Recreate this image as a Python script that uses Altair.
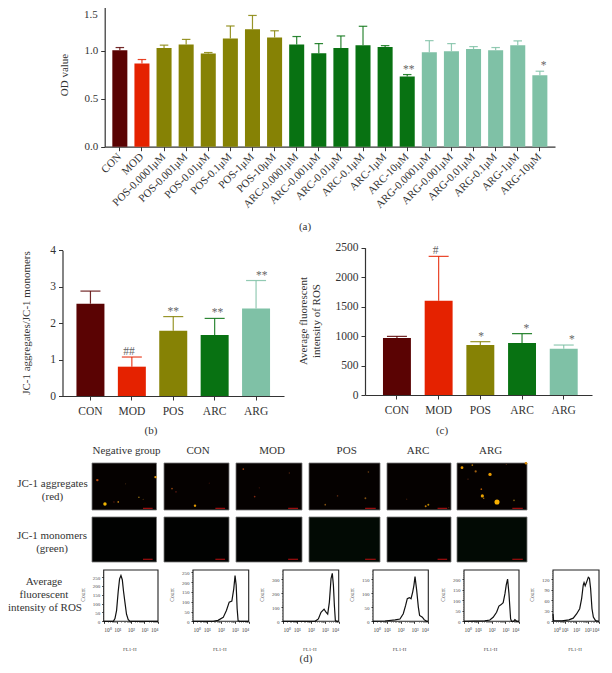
import altair as alt
import pandas as pd

FONT = "Liberation Serif"
OFF = 8
W, H = 596, 657

COLORS = {"CON": "#5a0303", "MOD": "#e52200", "POS": "#868205", "ARC": "#087212", "ARG": "#7fc1a6"}

# Panel (a)
a_labels = ["CON", "MOD", "POS-0.0001μM", "POS-0.001μM", "POS-0.01μM", "POS-0.1μM", "POS-1μM", "POS-10μM",
            "ARC-0.0001μM", "ARC-0.001μM", "ARC-0.01μM", "ARC-0.1μM", "ARC-1μM", "ARC-10μM",
            "ARG-0.0001μM", "ARG-0.001μM", "ARG-0.01μM", "ARG-0.1μM", "ARG-1μM", "ARG-10μM"]
a_groups = ["CON", "MOD"] + ["POS"] * 6 + ["ARC"] * 6 + ["ARG"] * 6
a_vals = [1.007, 0.868, 1.03, 1.066, 0.972, 1.13, 1.226, 1.14, 1.066, 0.976, 1.03, 1.06, 1.04, 0.733,
          0.986, 0.997, 1.02, 1.007, 1.06, 0.746]
a_tops = [1.035, 0.91, 1.06, 1.12, 0.983, 1.26, 1.37, 1.21, 1.15, 1.076, 1.156, 1.257, 1.055, 0.753,
          1.107, 1.076, 1.045, 1.035, 1.104, 0.788]
a_marks = ["", "", "", "", "", "", "", "", "", "", "", "", "", "**", "", "", "", "", "", "*"]

# Panels (b), (c)
groups = ["CON", "MOD", "POS", "ARC", "ARG"]
b_vals = [2.535, 0.805, 1.794, 1.675, 2.40]
b_tops = [2.88, 1.07, 2.18, 2.13, 3.17]
b_marks = ["", "##", "**", "**", "**"]
c_vals = [967, 1600, 848, 882, 786]
c_tops = [995, 2353, 905, 1040, 848]
c_marks = ["", "#", "*", "*", "*"]


def bars(labels, grps, vals, tops, marks, x0, x1, y0, y1, ymax, yticks, pin, pout, cap, yfmt,
         angle=0, lab_size=11.5, title_pad=6, band_align=0.5):
    df = pd.DataFrame({"label": labels, "group": grps, "val": vals, "top": tops, "mark": marks})
    x_off = dict(labelFont=FONT, labelFontSize=lab_size, labelColor="#333", tickColor="#333", domainColor="#333",
                 tickSize=4, labelPadding=title_pad, title=None, orient="bottom", offset=y0 - OFF - H,
                 domainWidth=1.2, tickWidth=1)
    if angle:
        x_off.update(labelAngle=angle, labelAlign="right", labelBaseline="middle")
    else:
        x_off.update(labelAngle=0)
    xs = alt.Scale(domain=labels, range=[x0 - OFF, x1 - OFF], paddingInner=pin, paddingOuter=pout, align=band_align)
    ys = alt.Scale(domain=[0, ymax], range=[y0 - OFF, y1 - OFF], nice=False)
    col = alt.Color("group:N", scale=alt.Scale(domain=groups, range=[COLORS[g] for g in groups]), legend=None)
    yax = alt.Axis(values=yticks, format=yfmt, labelFont=FONT, labelFontSize=lab_size, labelColor="#333",
                   tickColor="#333", domainColor="#333", tickSize=4, labelPadding=3, title=None, orient="left",
                   offset=-(x0 - OFF), grid=False, domainWidth=1.2, tickWidth=1)
    X = alt.X("label:N", scale=xs, sort=labels, axis=alt.Axis(**x_off))
    Xn = alt.X("label:N", scale=xs, sort=labels, axis=None)
    Yn = alt.Y("top:Q", scale=ys, axis=None)
    base = alt.Chart(df)
    rule = base.mark_rule(strokeWidth=1.2, opacity=0.85).encode(x=Xn, y=Yn, y2="val:Q", color=col)
    tick = base.mark_tick(size=cap, thickness=1.2, opacity=0.85).encode(x=Xn, y=Yn, color=col)
    bar = base.mark_bar().encode(x=X, y=alt.Y("val:Q", scale=ys, axis=yax), color=col)
    txt = base.transform_filter("datum.mark != ''").mark_text(
        font=FONT, fontSize=11.5, dy=-5, color="#666").encode(x=Xn, y=Yn, text="mark:N")
    return [rule, tick, bar, txt]


# Panel (d) fluorescence images: panel extents on the page, spots read in crop coordinates
img_cols = [(92, 156.5), (164, 229), (236, 302), (309, 380), (387, 451), (457, 527)]
crop_x = [(6, 200), (222, 417), (438, 636), (11, 225), (245, 437), (457, 667)]
row1 = (463, 510)
row2 = (517, 562)
spots_red = [
    [(22, 61, 6, "#b84a10"), (45, 132, 12, "#f0b400"), (85, 126, 3, "#b87a10"), (197, 52, 6, "#e09810"),
     (147, 112, 3, "#806010"), (107, 72, 1.5, "#402810"), (160, 118, 1.5, "#604010"), (72, 126, 2, "#601c10")],
    [(246, 86, 3, "#904510"), (258, 96, 3, "#501610"), (315, 137, 6, "#e09800"), (358, 70, 2, "#301008")],
    [(460, 28, 3, "#a04010"), (494, 110, 3, "#802810"), (598, 40, 2, "#502410"), (508, 84, 2, "#401408")],
    [(190, 37, 2.5, "#704010"), (97, 108, 2.5, "#582810"), (181, 115, 3.5, "#805010"), (60, 134, 3, "#805010")],
    [(361, 139, 4, "#c07a00"), (369, 134, 4, "#b88800"), (304, 118, 2, "#3a1a08"), (430, 143, 2, "#402008")],
    [(472, 24, 8, "#e89a00"), (503, 16, 3, "#b07000"), (513, 35, 5, "#a06010"), (556, 44, 11, "#e89a00"),
     (530, 88, 3, "#b05800"), (533, 108, 10, "#e8a200"), (537, 115, 2.5, "#a06800"), (577, 126, 26, "#f8b000"),
     (628, 121, 3, "#806410"), (490, 58, 2, "#602810"), (664, 11, 6, "#d88800"), (605, 14, 2, "#502810")],
]
green_fill = ["#010201", "#010201", "#010201", "#020a04", "#010201", "#020a04"]
SCALEBAR_X = (0.79, 0.94)

# Panel (d) flow cytometry histograms
hist_x = [(103.7, 158), (193, 248.7), (283, 338.7), (373, 428.3), (464, 519), (553, 599)]
hist_top = [290, 262, 368, 184, 243, 147]
hist_ticks = [[0, 50, 100, 150, 200, 250], [0, 50, 100, 150, 200, 250], [0, 100, 200, 300],
              [0, 50, 100, 150], [0, 50, 100, 150, 200], [0, 30, 60, 90, 120]]
hist_minor = [10, 10, 20, 10, 10, 6]
hist_dec = [
    [0, 0.71, 0.83, 0.95, 1.07, 1.17, 1.27, 1.37, 1.46, 1.56, 1.68, 1.80, 1.93, 4],
    [0, 1.45, 1.8, 2.17, 2.4, 2.6, 2.79, 2.93, 3.02, 3.1, 3.17, 3.24, 3.36, 4],
    [0, 2.3, 2.54, 2.73, 2.95, 3.09, 3.21, 3.33, 3.45, 3.54, 3.62, 3.69, 3.76, 3.86, 4],
    [0, 0.87, 1.6, 1.95, 2.19, 2.36, 2.48, 2.63, 2.75, 2.87, 2.96, 3.04, 3.16, 3.28, 3.37, 3.57, 3.7, 3.88, 4],
    [0, 1.51, 1.88, 2.12, 2.37, 2.54, 2.68, 2.85, 2.98, 3.07, 3.17, 3.27, 3.39, 3.46, 3.61, 3.7, 3.83, 4],
    [0, 0.05, 0.78, 1.39, 1.76, 2.05, 2.32, 2.49, 2.63, 2.7, 2.8, 2.93, 3.07, 3.17, 3.27, 3.39, 3.51, 3.7, 3.95, 4],
]
hist_cnt = [
    [0, 0, 15, 62, 170, 240, 259, 235, 170, 110, 40, 10, 0, 0],
    [0, 0, 5, 20, 55, 98, 103, 167, 233, 185, 64, 3, 0, 0],
    [0, 0, 17, 65, 87, 65, 51, 138, 307, 344, 259, 114, 5, 0, 0],
    [0, 1, 5, 8, 27, 57, 81, 85, 81, 105, 129, 160, 111, 51, 21, 15, 6, 0, 0],
    [0, 2, 6, 19, 43, 72, 78, 88, 131, 171, 200, 131, 11, 0, 0, 8, 0, 0],
    [21, 2, 1, 4, 9, 21, 36, 65, 104, 111, 102, 113, 126, 123, 94, 36, 12, 2, 0, 0],
]
HIST_Y = (621.3, 570)
MINOR_DEC = [k + m for k in range(4) for m in (0.301, 0.477, 0.602, 0.699, 0.778, 0.845, 0.903, 0.954)]

TEXTS = [
    ("(a)", 305, 227, 11), ("(b)", 151, 431, 11), ("(c)", 442, 431, 11), ("(d)", 306, 659, 11),
    ("Negative group", 126.5, 451, 11), ("CON", 198, 451, 11), ("MOD", 272, 451, 11),
    ("POS", 346.7, 451, 11), ("ARC", 418, 451, 11), ("ARG", 490.7, 451, 11),
    ("JC-1 aggregates", 52.5, 484, 11), ("(red)", 52.5, 497, 11),
    ("JC-1 monomers", 52, 536, 11), ("(green)", 52, 549, 11),
    ("Average", 44, 582, 11), ("fluorescent", 44, 595, 11), ("intensity of ROS", 45, 608, 11),
]
ROT_TEXTS = [("OD value", 64.5, 75, 11), ("JC-1 aggregates/JC-1 monomers", 27, 323, 11),
             ("Average fluorescent", 304, 321, 11), ("intensity of ROS", 317, 321, 11)]

layers = []


def text(s, x, y, size, angle=0, color="#333"):
    return alt.Chart(pd.DataFrame({"t": [s]})).mark_text(
        font=FONT, fontSize=size, angle=angle, color=color, align="center", baseline="middle"
    ).encode(x=alt.value(x - OFF), y=alt.value(y - OFF), text="t:N")


def box(x0, x1, y0, y1, fill, stroke=None, sw=1):
    kw = dict(fill=fill)
    if stroke:
        kw.update(stroke=stroke, strokeWidth=sw)
    return alt.Chart(pd.DataFrame({"k": [0]})).mark_rect(**kw).encode(
        x=alt.value(x0 - OFF), x2=alt.value(x1 - OFF), y=alt.value(y0 - OFF), y2=alt.value(y1 - OFF))


layers += bars(a_labels, a_groups, a_vals, a_tops, a_marks, 104.7, 555, 146.7, 3, 1.5, [0, 0.5, 1.0],
               0.32, 0.345, 8.5, ".1f", angle=-45, lab_size=11, title_pad=4)
# "1.5" sits against the top edge of the page
layers.append(alt.Chart(pd.DataFrame({"v": [1.5], "t": ["1.5"]})).mark_text(
    font=FONT, fontSize=11, align="right", dy=12, color="#333").encode(
    x=alt.value(104.7 - OFF - 7),
    y=alt.Y("v:Q", scale=alt.Scale(domain=[0, 1.5], range=[146.7 - OFF, 3 - OFF], nice=False), axis=None),
    text="t:N"))
layers += bars(groups, groups, b_vals, b_tops, b_marks, 62.5, 284, 396, 250.3, 4, [0, 1, 2, 3, 4],
               0.324, 0.337, 20, "d", title_pad=5)
layers += bars(groups, groups, c_vals, c_tops, c_marks, 365, 592, 395, 247.7, 2500, [0, 500, 1000, 1500, 2000, 2500],
               0.33, 0.387, 20, "d", title_pad=5, band_align=0.557)

for i, (cx, crop) in enumerate(zip(img_cols, crop_x)):
    layers.append(box(cx[0], cx[1], row1[0], row1[1], "#050100", "#777", 0.8))
    layers.append(box(cx[0], cx[1], row2[0], row2[1], green_fill[i], "#777", 0.8))
    df = pd.DataFrame(spots_red[i], columns=["fx", "fy", "s", "c"])
    layers.append(alt.Chart(df).mark_circle(opacity=1).encode(
        x=alt.X("fx:Q", scale=alt.Scale(domain=list(crop), range=[cx[0] - OFF, cx[1] - OFF], nice=False, zero=False), axis=None),
        y=alt.Y("fy:Q", scale=alt.Scale(domain=[10, 150], range=[row1[0] - OFF, row1[1] - OFF], nice=False, zero=False), axis=None),
        size=alt.Size("s:Q", scale=None),
        color=alt.Color("c:N", scale=None)))
    bw = cx[1] - cx[0]
    for ry, frac in ((row1, 0.965), (row2, 0.94)):
        yy = ry[0] + (ry[1] - ry[0]) * frac
        layers.append(box(cx[0] + bw * SCALEBAR_X[0], cx[0] + bw * SCALEBAR_X[1], yy - 0.6, yy + 0.6, "#a00f0f"))

for i, hx in enumerate(hist_x):
    layers.append(box(hx[0], hx[1], HIST_Y[1], HIST_Y[0], "#ffffff", "#222", 1.1))
    df = pd.DataFrame({"dec": hist_dec[i], "count": hist_cnt[i]})
    sx = alt.Scale(domain=[0, 4], range=[hx[0] - OFF, hx[1] - OFF], nice=False, zero=False)
    sy = alt.Scale(domain=[0, hist_top[i]], range=[HIST_Y[0] - OFF, HIST_Y[1] - OFF], nice=False)
    xax = alt.Axis(values=[0, 1, 2, 3, 4], labelExpr="'10' + ['⁰','¹','²','³','⁴'][datum.value]",
                   labelFont=FONT, labelFontSize=5.5, labelColor="#444", tickColor="#333", tickSize=2, labelPadding=4,
                   domain=False, grid=False, title=None, orient="bottom", offset=HIST_Y[0] - OFF - H, labelAngle=0)
    yax = alt.Axis(values=hist_ticks[i], labelFont=FONT, labelFontSize=5, labelColor="#444", tickColor="#333",
                   tickSize=2, labelPadding=2, domain=False, grid=False, title=None, orient="left",
                   offset=-(hx[0] - OFF))
    xminor = alt.Axis(values=MINOR_DEC, labels=False, tickColor="#555", tickSize=1, tickWidth=0.6, domain=False,
                      grid=False, title=None, orient="bottom", offset=HIST_Y[0] - OFF - H)
    yminor = alt.Axis(values=list(range(0, hist_top[i], hist_minor[i])), labels=False, tickColor="#555", tickSize=1,
                      tickWidth=0.6, domain=False, grid=False, title=None, orient="left", offset=-(hx[0] - OFF))
    layers.append(alt.Chart(df).mark_line(opacity=0).encode(
        x=alt.X("dec:Q", scale=sx, axis=xminor), y=alt.Y("count:Q", scale=sy, axis=yminor)))
    layers.append(alt.Chart(df).mark_line(color="#111", strokeWidth=1.2).encode(
        x=alt.X("dec:Q", scale=sx, axis=xax), y=alt.Y("count:Q", scale=sy, axis=yax)))
    layers.append(text("FL1-H", (hx[0] + hx[1]) / 2 - 1, 649, 5, color="#444"))
    layers.append(text("Count", hx[0] - 21, 595, 5.5, angle=270, color="#444"))

for s, x, y, size in TEXTS:
    layers.append(text(s, x, y, size))
for s, x, y, size in ROT_TEXTS:
    layers.append(text(s, x, y, size, angle=270))

chart = alt.layer(*layers).resolve_scale(x="independent", y="independent", color="independent", size="independent").properties(
    width=W, height=H, padding=0, autosize=alt.AutoSizeParams(type="none"), background="#ffffff"
).configure_view(stroke=None)

chart.save("out.html", embed_options={"renderer": "svg", "actions": False})
